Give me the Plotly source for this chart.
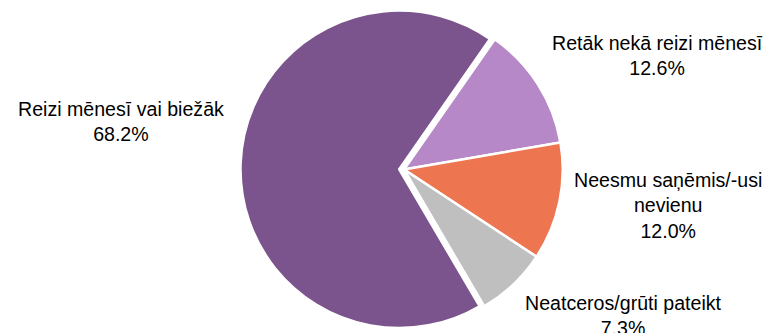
import plotly.graph_objects as go

# Survey answers and their shares (%)
labels = ["Reizi mēnesī vai biežāk", "Retāk nekā reizi mēnesī",
          "Neesmu saņēmis/-usi nevienu", "Neatceros/grūti pateikt"]
label_lines = ["Reizi mēnesī vai biežāk", "Retāk nekā reizi mēnesī",
               "Neesmu saņēmis/-usi<br>nevienu", "Neatceros/grūti pateikt"]
values = [68.2, 12.6, 12.0, 7.3]
colors = ["#7B538D", "#B688C7", "#ED7650", "#BFBFBF"]
pulls = [0.03, 0, 0, 0]

W, H = 776, 333
FONT = "Liberation Sans, Arial, sans-serif"

fig = go.Figure(go.Pie(
    labels=labels,
    values=values,
    marker=dict(colors=colors, line=dict(color="white", width=2.5)),
    pull=pulls,
    sort=False,
    direction="clockwise",
    rotation=149.6,
    textinfo="none",
    hoverinfo="label+percent",
    showlegend=False,
    domain=dict(x=[404 / W - 0.3, 404 / W + 0.3], y=[0, 327 / H]),
))

# Outside labels: category name over its share
label_pos = [(121, 121), (657, 56), (668, 205), (623, 315)]
for text, v, (px, py) in zip(label_lines, values, label_pos):
    fig.add_annotation(
        x=px / W, y=1 - py / H, xref="paper", yref="paper",
        text=f"{text}<br>{v:.1f}%",
        showarrow=False, align="center",
        xanchor="center", yanchor="middle",
        font=dict(family=FONT, size=19.6, color="#000000"),
    )

fig.update_layout(
    width=W, height=H,
    margin=dict(l=0, r=0, t=0, b=0),
    paper_bgcolor="white",
    plot_bgcolor="white",
    font=dict(family=FONT),
)

fig.write_html("out.html")
